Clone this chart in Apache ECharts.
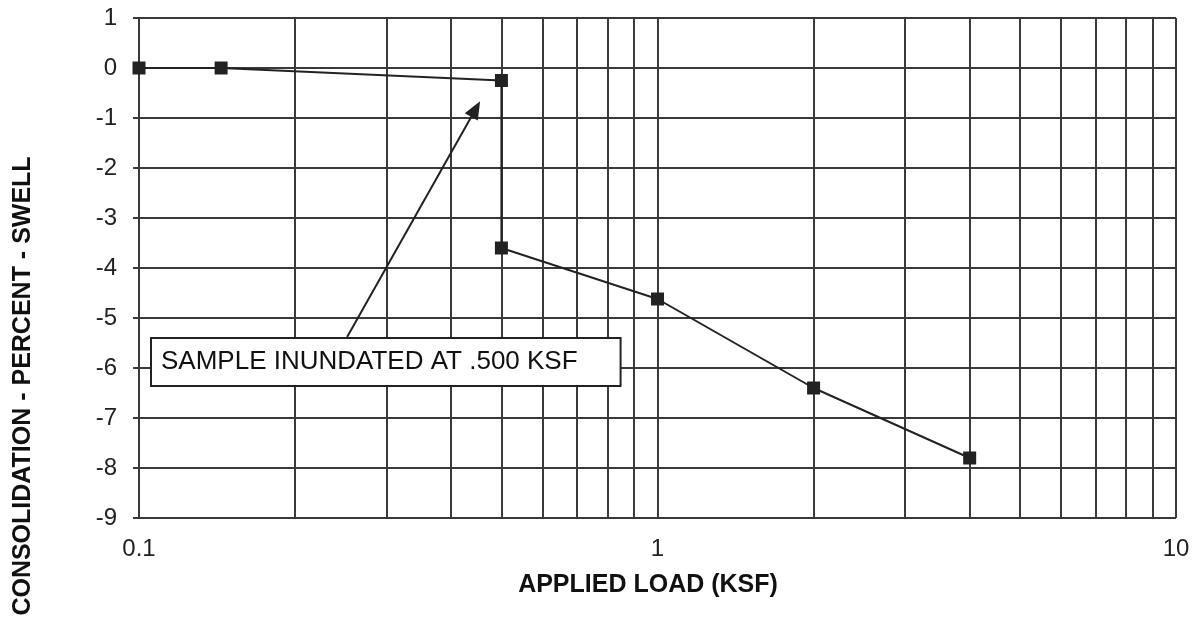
<!DOCTYPE html>
<html>
<head>
<meta charset="utf-8">
<script src="https://cdn.jsdelivr.net/npm/echarts@6/dist/echarts.min.js"></script>
<style>
html, body { margin: 0; padding: 0; background: #fff; }
#ConsolidationChart { width: 1198px; height: 641px; }
</style>
</head>
<body>
<div id="ConsolidationChart"></div>
<script>
// applied load (ksf) and consolidation / swell (%)
const loads = [0.1, 0.144, 0.5, 0.5, 1, 2, 4]
const strains = [0, 0, -0.25, -3.6, -4.62, -6.4, -7.8]
const minorLoads = [0.2, 0.3, 0.4, 0.5, 0.6, 0.7, 0.8, 0.9, 2, 3, 4, 5, 6, 7, 8, 9]
const arrowFrom = [0.252, -5.38]
const arrowTo = [0.446, -0.82]
const noteText = 'SAMPLE INUNDATED AT .500 KSF'

const gridColor = '#3a3a3a'
const font = 'Arial, "Liberation Sans", sans-serif'

const chart = echarts.init(document.getElementById('ConsolidationChart'))
const option = {
  backgroundColor: '#fff',
  animation: false,
  grid: { left: 139, right: 22, top: 18, bottom: 123 },
  xAxis: {
    type: 'log',
    logBase: 10,
    min: 0.1,
    max: 10,
    axisLine: { show: true, lineStyle: { color: gridColor, width: 2 } },
    axisTick: { show: false },
    axisLabel: { color: '#222', fontSize: 24, fontFamily: font, margin: 19 },
    splitLine: { show: true, lineStyle: { color: gridColor, width: 2 } }
  },
  yAxis: {
    type: 'value',
    min: -9,
    max: 1,
    interval: 1,
    axisLine: { show: true, lineStyle: { color: gridColor, width: 2 } },
    axisTick: { show: true, length: 6, lineStyle: { color: gridColor, width: 2 } },
    axisLabel: { color: '#222', fontSize: 24, fontFamily: font, margin: 22 },
    splitLine: { show: true, lineStyle: { color: gridColor, width: 2 } }
  },
  graphic: [
    {
      type: 'text',
      left: 150,
      top: 337,
      style: {
        text: noteText,
        font: '26px ' + font,
        fill: '#111',
        backgroundColor: '#fff',
        borderColor: '#222',
        borderWidth: 2,
        padding: [10, 42, 10, 9]
      },
      z: 100
    },
    {
      type: 'text',
      x: 23,
      y: 386,
      rotation: Math.PI / 2,
      style: {
        text: 'CONSOLIDATION - PERCENT - SWELL',
        font: 'bold 25px ' + font,
        fill: '#111',
        align: 'center',
        verticalAlign: 'middle'
      }
    },
    {
      type: 'text',
      x: 648,
      y: 585,
      style: {
        text: 'APPLIED LOAD (KSF)',
        font: 'bold 25px ' + font,
        fill: '#111',
        align: 'center',
        verticalAlign: 'middle'
      }
    }
  ],
  series: [
    {
      name: 'grid-minor',
      type: 'line',
      data: [],
      silent: true,
      markLine: {
        silent: true,
        symbol: 'none',
        label: { show: false },
        lineStyle: { color: gridColor, width: 2, type: 'solid' },
        data: minorLoads.map(v => ({ xAxis: v }))
      }
    },
    {
      name: 'arrow',
      type: 'line',
      data: [],
      silent: true,
      z: 5,
      markLine: {
        silent: true,
        symbol: ['none', 'triangle'],
        symbolSize: [15, 18],
        label: { show: false },
        lineStyle: { color: '#222', width: 2, type: 'solid' },
        data: [[{ coord: arrowFrom }, { coord: arrowTo }]]
      }
    },
    {
      name: 'test',
      type: 'line',
      z: 10,
      data: loads.map((x, i) => [x, strains[i]]),
      symbol: 'rect',
      symbolSize: 13,
      lineStyle: { color: '#222', width: 2 },
      itemStyle: { color: '#222' }
    }
  ]
}
chart.setOption(option)
</script>
</body>
</html>
